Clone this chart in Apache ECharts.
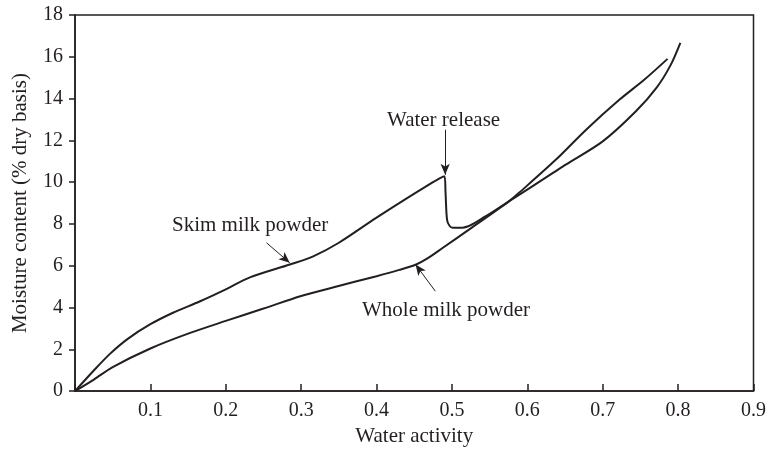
<!DOCTYPE html>
<html>
<head>
<meta charset="utf-8">
<script src="https://cdn.jsdelivr.net/npm/echarts@6/dist/echarts.min.js"></script>
<style>
html,body{margin:0;padding:0;background:#fff;}
#chart{width:769px;height:452px;}
</style>
</head>
<body>
<div id="chart"></div>
<script>
// Skim milk powder (water activity, moisture content % dry basis)
var waSkim = [0, 0.024, 0.046, 0.07, 0.1, 0.13, 0.166, 0.2, 0.232, 0.285, 0.316, 0.35, 0.4, 0.47, 0.49, 0.4915, 0.4935, 0.497, 0.501, 0.514, 0.545, 0.576, 0.634, 0.651, 0.7, 0.744, 0.772, 0.79, 0.803];
var mcSkim = [0, 0.95, 1.77, 2.5, 3.2, 3.75, 4.3, 4.87, 5.44, 6.06, 6.45, 7.1, 8.3, 9.89, 10.28, 9.5, 8.2, 7.9, 7.82, 7.82, 8.37, 9.09, 10.44, 10.84, 11.95, 13.39, 14.55, 15.6, 16.67];
// Whole milk powder
var waWhole = [0, 0.025, 0.05, 0.1, 0.15, 0.2, 0.25, 0.3, 0.342, 0.4, 0.43, 0.4525, 0.4675, 0.488, 0.523, 0.576, 0.589, 0.638, 0.678, 0.722, 0.755, 0.786];
var mcWhole = [0, 0.55, 1.15, 2.04, 2.75, 3.36, 3.95, 4.55, 4.96, 5.5, 5.8, 6.06, 6.35, 6.86, 7.74, 9.09, 9.49, 11.08, 12.51, 13.94, 14.9, 15.9];
// Axis ticks
var xTicks = [0, 0.1, 0.2, 0.3, 0.4, 0.5, 0.6, 0.7, 0.8, 0.9];
var yTicks = [0, 2, 4, 6, 8, 10, 12, 14, 16, 18];
// Annotations
var annoText = ['Skim milk powder', 'Water release', 'Whole milk powder'];
var arrowFrom = [[0.254, 7.10], [0.491, 12.51], [0.478, 4.78]];
var arrowTo = [[0.2848, 6.14], [0.491, 10.35], [0.4517, 6.06]];

function zip(a, b) { return a.map(function (v, i) { return [v, b[i]]; }); }

var ink = '#231f20';
var font = '"Liberation Serif", "DejaVu Serif", serif';
var chart = echarts.init(document.getElementById('chart'));
chart.setOption({
  animation: false,
  backgroundColor: '#fff',
  grid: { left: 75, right: 14.5, top: 15, bottom: 60, show: true, borderColor: ink, borderWidth: 1.5, backgroundColor: 'transparent' },
  xAxis: {
    type: 'value', min: xTicks[0], max: xTicks[xTicks.length - 1], interval: 0.1,
    name: 'Water activity', nameLocation: 'middle', nameGap: 30,
    nameTextStyle: { fontFamily: font, fontSize: 21, color: ink },
    axisLine: { lineStyle: { color: ink, width: 1.5 } },
    axisTick: { inside: true, length: 7, lineStyle: { color: ink, width: 1.5 } },
    axisLabel: { margin: 10, fontFamily: font, fontSize: 20, color: ink,
      formatter: function (v) { return v === 0 ? '' : v.toFixed(1); } },
    splitLine: { show: false }
  },
  yAxis: {
    type: 'value', min: yTicks[0], max: yTicks[yTicks.length - 1], interval: 2,
    name: 'Moisture content (% dry basis)', nameLocation: 'middle', nameGap: 44,
    nameTextStyle: { fontFamily: font, fontSize: 21, color: ink },
    axisLine: { lineStyle: { color: ink, width: 1.5 } },
    axisTick: { inside: false, length: 6, lineStyle: { color: ink, width: 1.5 } },
    axisLabel: { margin: 12, fontFamily: font, fontSize: 20, color: ink },
    splitLine: { show: false }
  },
  series: [
    {
      name: 'Skim milk powder', type: 'line', data: zip(waSkim, mcSkim),
      smooth: 0.3, showSymbol: false,
      lineStyle: { color: ink, width: 2 },
      markLine: {
        silent: true, symbol: ['none', 'arrow'], symbolSize: [7, 11],
        lineStyle: { color: ink, width: 1, type: 'solid' }, label: { show: false },
        data: arrowFrom.map(function (p, i) { return [{ coord: p }, { coord: arrowTo[i] }]; })
      }
    },
    {
      name: 'Whole milk powder', type: 'line', data: zip(waWhole, mcWhole),
      smooth: 0.3, showSymbol: false,
      lineStyle: { color: ink, width: 2 }
    }
  ],
  graphic: [
    { type: 'text', x: 172, y: 225, style: { text: annoText[0], font: '21px ' + font, fill: ink, verticalAlign: 'middle' } },
    { type: 'text', x: 387, y: 120, style: { text: annoText[1], font: '21px ' + font, fill: ink, verticalAlign: 'middle' } },
    { type: 'text', x: 362, y: 310, style: { text: annoText[2], font: '21px ' + font, fill: ink, verticalAlign: 'middle' } }
  ]
});
</script>
</body>
</html>
